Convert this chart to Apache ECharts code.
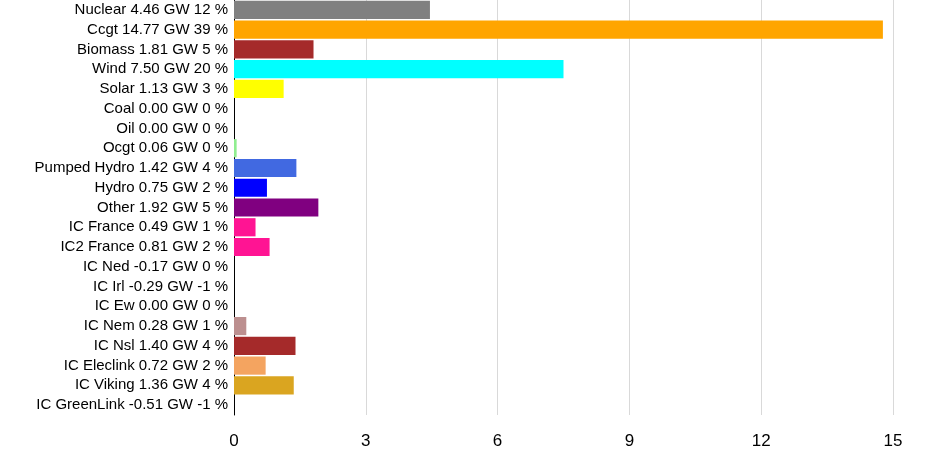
<!DOCTYPE html><html><head><meta charset="utf-8"><script src="https://cdn.jsdelivr.net/npm/echarts@6/dist/echarts.min.js"></script>
<style>html,body{margin:0;background:#fff}#c{width:947px;height:473px}</style></head><body><div id="c"></div><script>
const categories=["Nuclear","Ccgt","Biomass","Wind","Solar","Coal","Oil","Ocgt","Pumped Hydro","Hydro","Other","IC France","IC2 France","IC Ned","IC Irl","IC Ew","IC Nem","IC Nsl","IC Eleclink","IC Viking","IC GreenLink"];
const values=[4.46,14.77,1.81,7.50,1.13,0.00,0.00,0.06,1.42,0.75,1.92,0.49,0.81,-0.17,-0.29,0.00,0.28,1.40,0.72,1.36,-0.51];
const percents=[12,39,5,20,3,0,0,0,4,2,5,1,2,0,-1,0,1,4,2,4,-1];
const colors=["#808080","#ffa500","#a52a2a","#00ffff","#ffff00","#000000","#000000","#90ee90","#4169e1","#0000ff","#800080","#ff1493","#ff1493","#fa8072","#ff69b4","#000000","#bc8f8f","#a52a2a","#f4a460","#daa520","#90ee90"];
const ticks=[0,3,6,9,12,15];
const labels=categories.map((c,i)=>c+" "+values[i].toFixed(2)+" GW "+percents[i]+" %");
const ch=echarts.init(document.getElementById('c'));
ch.setOption({animation:false,
grid:{left:234,right:54,top:0,bottom:58},
xAxis:{type:'value',min:0,max:15,interval:3,axisLine:{show:false},axisTick:{show:false},
 axisLabel:{color:'#000',fontSize:17,fontFamily:'Arial',margin:18},splitLine:{lineStyle:{color:'#d9d9d9'}}},
yAxis:{type:'category',inverse:true,data:labels,axisLine:{onZero:false,lineStyle:{color:'#000'}},axisTick:{show:false},
 axisLabel:{color:'#000',fontSize:15,fontFamily:'Arial',margin:6}},
series:[{type:'bar',barCategoryGap:'8%',data:values.map((v,i)=>({value:v,itemStyle:{color:colors[i]}}))}]});
</script></body></html>
